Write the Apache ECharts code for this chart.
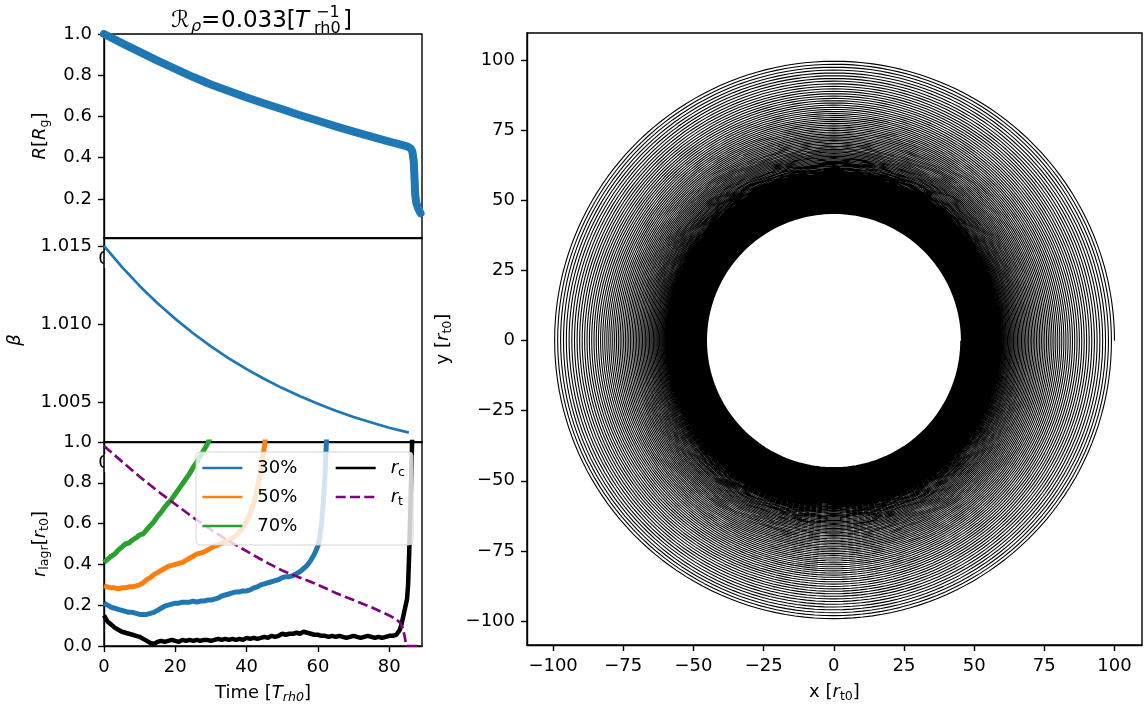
<!DOCTYPE html>
<html>
<head>
<meta charset="utf-8">
<script src="https://cdn.jsdelivr.net/npm/echarts@6/dist/echarts.min.js"></script>
<style>
  html, body { margin: 0; padding: 0; background: #fff; }
  #chart { width: 1144px; height: 711px; }
</style>
</head>
<body>
<div id="chart"></div>
<script>
// ---------- data ----------
// Galactocentric radius of the cluster, R [R_g], against time [T_rh0]
const timeR = [0, 5, 10, 15, 20, 25, 30, 35, 40, 45, 50, 55, 60, 65, 70, 75, 80, 83, 85, 86, 86.5, 86.9, 87.1, 87.3, 87.6, 88.2, 88.8];
const sizeR = [1.000, 0.956, 0.913, 0.871, 0.831, 0.791, 0.755, 0.723, 0.692, 0.663, 0.635, 0.606, 0.579, 0.552, 0.526, 0.502, 0.478, 0.464, 0.455, 0.445, 0.43, 0.38, 0.30, 0.22, 0.18, 0.15, 0.13];

// beta against time
const timeBeta = [0, 5, 10, 15, 20, 25, 30, 35, 40, 45, 50, 55, 60, 65, 70, 75, 80, 85, 85.5];
const beta = [1.01500, 1.01367, 1.01245, 1.01135, 1.01035, 1.00943, 1.00859, 1.00783, 1.00714, 1.00651, 1.00593, 1.00541, 1.00493, 1.00449, 1.00409, 1.00373, 1.00340, 1.00312, 1.00309];

// Lagrangian radii [r_t0] : [time, radius]
const lagr30 = [[0,0.21],[1,0.20],[2,0.19],[3,0.185],[4,0.18],[5,0.175],[6,0.17],[7,0.165],[8,0.165],[9,0.16],[10,0.155],[11,0.155],[12,0.155],[13,0.16],[14,0.165],[15,0.175],[16,0.185],[17,0.195],[18,0.20],[19,0.205],[20,0.21],[21,0.21],[22,0.215],[23,0.215],[24,0.215],[25,0.22],[26,0.215],[27,0.22],[28,0.22],[29,0.225],[30,0.225],[31,0.23],[32,0.235],[33,0.245],[34,0.25],[35,0.255],[36,0.26],[37,0.265],[38,0.265],[39,0.27],[40,0.27],[41,0.275],[42,0.285],[43,0.29],[44,0.30],[45,0.305],[46,0.31],[47,0.315],[48,0.32],[49,0.325],[50,0.335],[51,0.34],[52,0.34],[53,0.345],[54,0.355],[55,0.365],[56,0.38],[57,0.395],[58,0.42],[59,0.45],[60,0.49],[60.5,0.53],[61,0.60],[61.5,0.70],[62,0.84],[62.5,1.05]];
const lagr50 = [[0,0.295],[1,0.29],[2,0.285],[3,0.285],[4,0.28],[5,0.285],[6,0.285],[7,0.29],[8,0.29],[9,0.295],[10,0.30],[11,0.31],[12,0.325],[13,0.335],[14,0.35],[15,0.36],[16,0.37],[17,0.38],[18,0.39],[19,0.395],[20,0.40],[21,0.405],[22,0.41],[23,0.42],[24,0.43],[25,0.44],[26,0.45],[27,0.455],[28,0.46],[29,0.47],[30,0.48],[31,0.49],[32,0.495],[33,0.505],[34,0.51],[35,0.52],[36,0.53],[37,0.54],[38,0.56],[39,0.58],[40,0.61],[41,0.65],[42,0.70],[43,0.77],[44,0.86],[45,0.98],[45.5,1.05]];
const lagr70 = [[0,0.41],[1,0.425],[2,0.44],[3,0.45],[4,0.47],[5,0.485],[6,0.50],[7,0.505],[8,0.52],[9,0.53],[10,0.545],[11,0.55],[12,0.57],[13,0.59],[14,0.61],[15,0.635],[16,0.655],[17,0.68],[18,0.70],[19,0.72],[20,0.745],[21,0.77],[22,0.795],[23,0.82],[24,0.845],[25,0.875],[26,0.90],[27,0.93],[28,0.96],[29,0.99],[30,1.03]];
// core radius r_c and tidal radius r_t [r_t0]
const coreRadius = [[0,0.15],[1,0.12],[2,0.105],[3,0.09],[4,0.08],[5,0.07],[6,0.065],[7,0.06],[8,0.055],[9,0.05],[10,0.045],[11,0.035],[12,0.025],[13,0.015],[14,0.01],[15,0.02],[16,0.025],[17,0.02],[18,0.025],[19,0.03],[20,0.025],[21,0.02],[22,0.03],[23,0.025],[24,0.03],[25,0.025],[26,0.03],[27,0.025],[28,0.03],[29,0.03],[30,0.025],[31,0.03],[32,0.035],[33,0.03],[34,0.035],[35,0.03],[36,0.035],[37,0.03],[38,0.035],[39,0.03],[40,0.04],[41,0.035],[42,0.04],[43,0.035],[44,0.04],[45,0.045],[46,0.04],[47,0.05],[48,0.045],[49,0.05],[50,0.06],[51,0.055],[52,0.06],[53,0.06],[54,0.065],[55,0.06],[56,0.07],[57,0.065],[58,0.06],[59,0.055],[60,0.055],[61,0.05],[62,0.05],[63,0.045],[64,0.05],[65,0.045],[66,0.05],[67,0.045],[68,0.04],[69,0.045],[70,0.05],[71,0.045],[72,0.04],[73,0.045],[74,0.05],[75,0.045],[76,0.04],[77,0.045],[78,0.04],[79,0.045],[80,0.05],[81,0.05],[82,0.055],[83,0.08],[83.5,0.11],[84,0.15],[84.5,0.19],[85,0.23],[85.3,0.30],[85.6,0.45],[85.9,0.65],[86.2,0.85],[86.5,1.05]];
const tidalRadius = [[0,0.98],[5,0.905],[10,0.83],[15,0.76],[20,0.695],[25,0.63],[30,0.57],[35,0.515],[40,0.465],[45,0.415],[50,0.37],[55,0.335],[60,0.30],[65,0.26],[70,0.225],[75,0.19],[80,0.15],[82,0.13],[83,0.115],[83.8,0.09],[84.3,0.05],[84.7,0.01],[85,0.0],[89.2,0.0]];

// Orbit in the galactic plane: radius [r_t0] at each successive pass through the +x axis
const turnRadius = [100.00,98.91,97.85,96.81,95.79,94.79,93.81,92.85,91.91,90.99,90.09,89.21,88.34,87.49,86.66,85.84,85.03,84.25,83.47,82.71,81.97,81.23,80.52,79.81,79.11,78.43,77.76,77.10,76.45,75.82,75.19,74.57,73.96,73.37,72.78,72.20,71.63,71.07,70.52,69.98,69.44,68.92,68.40,67.89,67.39,66.89,66.40,65.92,65.45,64.98,64.52,64.06,63.61,63.17,62.74,62.31,61.88,61.46,61.05,60.64,60.24,59.84,59.45,59.07,58.69,58.31,57.94,57.57,57.21,56.85,56.50,56.15,55.80,55.46,55.13,54.79,54.47,54.14,53.82,53.50,53.19,52.88,52.58,52.27,51.98,51.68,51.39,51.10,50.81,50.53,50.25,49.98,49.70,49.43,49.16,48.90,48.64,48.38,48.12,47.87,47.62,47.37,47.13,46.88,46.64,46.40,46.17,45.94,45.70,45.48,45.25];

// tick positions
const timeTicks = [0, 20, 40, 60, 80];
const sizeTicks = [0.2, 0.4, 0.6, 0.8, 1.0];
const betaTicks = [1.005, 1.010, 1.015];
const lagrTicks = [0.0, 0.2, 0.4, 0.6, 0.8, 1.0];
const orbitTicks = [-100, -75, -50, -25, 0, 25, 50, 75, 100];

// ---------- helpers ----------
const FONT = 'DejaVu Sans';
const BLUE = '#1f77b4', ORANGE = '#ff7f0e', GREEN = '#2ca02c', PURPLE = '#800080';

const RICH = {
  n:  { fontFamily: FONT, fontSize: 18, color: '#000', lineHeight: 22 },
  i:  { fontFamily: FONT, fontSize: 18, color: '#000', lineHeight: 22, fontStyle: 'italic' },
  s:  { fontFamily: FONT, fontSize: 12.6, color: '#000', lineHeight: 8, verticalAlign: 'bottom' },
  si: { fontFamily: FONT, fontSize: 12.6, color: '#000', lineHeight: 8, verticalAlign: 'bottom', fontStyle: 'italic' }
};

const lineStyleAxis = { color: '#000', width: 1.4 };
const axisLine = { show: true, onZero: false, lineStyle: lineStyleAxis };
function labelStyle(values, fmt) {
  return { show: true, customValues: values, formatter: fmt, color: '#000',
           fontFamily: FONT, fontSize: 18, margin: 12 };
}
function tickStyle(values) {
  return { show: true, customValues: values, length: 6, inside: false, lineStyle: lineStyleAxis };
}
const nameStyle = { fontFamily: FONT, fontSize: 18, color: '#000', rich: RICH };

// orbit path, sampled along each revolution
const SAMPLES_PER_TURN = 180;
const orbit = [];
for (let n = 0; n < turnRadius.length - 1; n++) {
  const r0 = turnRadius[n], r1 = turnRadius[n + 1];
  for (let k = 0; k < SAMPLES_PER_TURN; k++) {
    const f = k / SAMPLES_PER_TURN;
    const a = 2 * Math.PI * f;
    const r = r0 + (r1 - r0) * f;
    orbit.push([r * Math.cos(a), r * Math.sin(a)]);
  }
}
orbit.push([turnRadius[turnRadius.length - 1], 0]);

const minusFmt = v => String(v).replace('-', '\u2212');

const grids = [
  { left: 104, top: 34,  width: 318, height: 204 },
  { left: 104, top: 238, width: 318, height: 204 },
  { left: 104, top: 442, width: 318, height: 204 },
  { left: 527, top: 33,  width: 615, height: 612 }
].map(g => Object.assign(g, { show: true, borderColor: '#000', borderWidth: 1.4,
                               containLabel: false, outerBoundsMode: 'none' }));

function hiddenTimeAxis(idx) {
  return { gridIndex: idx, type: 'value', min: 0, max: 89.2, axisLine,
           axisTick: { show: false }, axisLabel: { show: false }, splitLine: { show: false } };
}

function titleText(x, y, text, size, italic) {
  return { type: 'text', x, y, z: 5,
           style: { text, fontFamily: FONT, fontSize: size, fontStyle: italic ? 'italic' : 'normal',
                    fill: '#000', verticalAlign: 'middle' } };
}

const option = {
  animation: false,
  backgroundColor: '#fff',
  grid: grids,
  xAxis: [
    hiddenTimeAxis(0),
    hiddenTimeAxis(1),
    { gridIndex: 2, type: 'value', min: 0, max: 89.2, axisLine,
      axisTick: tickStyle(timeTicks),
      axisLabel: labelStyle(timeTicks, v => String(v)),
      splitLine: { show: false },
      name: '{n|Time [}{i|T}{si|rh0}{n|]}', nameLocation: 'middle', nameGap: 36,
      nameTextStyle: nameStyle },
    { gridIndex: 3, type: 'value', min: -109.3, max: 109.8, axisLine,
      axisTick: tickStyle(orbitTicks),
      axisLabel: labelStyle(orbitTicks, minusFmt),
      splitLine: { show: false },
      name: '{n|x [}{i|r}{s|t0}{n|]}', nameLocation: 'middle', nameGap: 36,
      nameTextStyle: nameStyle }
  ],
  yAxis: [
    { gridIndex: 0, type: 'value', min: 0.01, max: 1.0, axisLine,
      axisTick: tickStyle(sizeTicks),
      axisLabel: labelStyle(sizeTicks, v => v.toFixed(1)),
      splitLine: { show: false },
      name: '{i|R}{n|[}{i|R}{s|g}{n|]}', nameLocation: 'middle', nameGap: 53, nameRotate: 90,
      nameTextStyle: nameStyle },
    { gridIndex: 1, type: 'value', min: 1.00249, max: 1.01551, axisLine,
      axisTick: tickStyle(betaTicks),
      axisLabel: labelStyle(betaTicks, v => v.toFixed(3)),
      splitLine: { show: false },
      name: '{i|β}', nameLocation: 'middle', nameGap: 78, nameRotate: 90,
      nameTextStyle: nameStyle },
    { gridIndex: 2, type: 'value', min: 0, max: 1.0, axisLine,
      axisTick: tickStyle(lagrTicks),
      axisLabel: labelStyle(lagrTicks, v => v.toFixed(1)),
      splitLine: { show: false },
      name: '{i|r}{s|lagr}{n|[}{i|r}{s|t0}{n|]}', nameLocation: 'middle', nameGap: 53, nameRotate: 90,
      nameTextStyle: nameStyle },
    { gridIndex: 3, type: 'value', min: -108.6, max: 109.8, axisLine,
      axisTick: tickStyle(orbitTicks),
      axisLabel: labelStyle(orbitTicks, minusFmt),
      splitLine: { show: false },
      name: '{n|y [}{i|r}{s|t0}{n|]}', nameLocation: 'middle', nameGap: 71, nameRotate: 90,
      nameTextStyle: nameStyle }
  ],
  legend: {
    left: 196, top: 452, width: 210,
    orient: 'horizontal',
    padding: [5, 8, 8, 5],
    itemGap: 7, itemWidth: 40, itemHeight: 14,
    backgroundColor: 'rgba(255,255,255,0.8)',
    borderColor: 'rgba(204,204,204,0.8)', borderWidth: 1, borderRadius: 4,
    selectedMode: false,
    lineStyle: { width: 2.7 },
    itemStyle: { color: 'rgba(0,0,0,0)', borderWidth: 0, opacity: 0 },
    textStyle: { fontFamily: FONT, fontSize: 18, color: '#000', lineHeight: 20,
                 padding: [0, 0, 0, 10], rich: RICH },
    formatter: name => name === 'rc' ? '{i|r}{s|c}' : name === 'rt' ? '{i|r}{s|t}' : '{n|' + name + '}',
    data: [
      { name: '30%', textStyle: { width: 70 } }, 'rc',
      { name: '50%', textStyle: { width: 70 } }, 'rt',
      { name: '70%', textStyle: { width: 70 } }
    ]
  },
  graphic: [
    // title: R_rho = 0.033 [T_rh0^-1]
    titleText(171, 21, 'ℛ', 23, false),
    titleText(191, 27, 'ρ', 16, true),
    titleText(201, 21, '=', 23, false),
    titleText(221, 21, '0.033[', 23, false),
    titleText(295, 21, 'T', 23, true),
    titleText(316, 13, '\u22121', 16, false),
    titleText(314, 29, 'rh0', 16, false),
    titleText(343, 21, ']', 23, false),
    // x tick label "0" of the upper panels, half hidden under the panel below
    { type: 'text', x: 104, y: 259, z: 1, style: { text: '0', fontFamily: FONT, fontSize: 18, fill: '#000', align: 'center', verticalAlign: 'middle' } },
    { type: 'rect', z: 1, shape: { x: 104.8, y: 250, width: 8, height: 18 }, style: { fill: '#fff' } },
    { type: 'text', x: 104, y: 463, z: 1, style: { text: '0', fontFamily: FONT, fontSize: 18, fill: '#000', align: 'center', verticalAlign: 'middle' } },
    { type: 'rect', z: 1, shape: { x: 104.8, y: 454, width: 8, height: 18 }, style: { fill: '#fff' } }
  ],
  series: [
    { type: 'line', xAxisIndex: 0, yAxisIndex: 0, z: 3, symbol: 'none',
      data: timeR.map((t, i) => [t, sizeR[i]]),
      lineStyle: { color: BLUE, width: 8, cap: 'round', join: 'round' } },
    { type: 'line', xAxisIndex: 1, yAxisIndex: 1, z: 3, symbol: 'none',
      data: timeBeta.map((t, i) => [t, beta[i]]),
      lineStyle: { color: BLUE, width: 2.7 } },
    { name: '30%', type: 'line', xAxisIndex: 2, yAxisIndex: 2, z: 3, symbol: 'none', color: BLUE,
      data: lagr30, lineStyle: { color: BLUE, width: 5 } },
    { name: '50%', type: 'line', xAxisIndex: 2, yAxisIndex: 2, z: 3, symbol: 'none', color: ORANGE,
      data: lagr50, lineStyle: { color: ORANGE, width: 5 } },
    { name: '70%', type: 'line', xAxisIndex: 2, yAxisIndex: 2, z: 3, symbol: 'none', color: GREEN,
      data: lagr70, lineStyle: { color: GREEN, width: 5 } },
    { name: 'rc', type: 'line', xAxisIndex: 2, yAxisIndex: 2, z: 3, symbol: 'none', color: '#000',
      data: coreRadius, lineStyle: { color: '#000', width: 4.5 } },
    { name: 'rt', type: 'line', xAxisIndex: 2, yAxisIndex: 2, z: 3, symbol: 'none', color: PURPLE,
      data: tidalRadius, lineStyle: { color: PURPLE, width: 2.7, type: [10, 4.3] } },
    { type: 'line', xAxisIndex: 3, yAxisIndex: 3, z: 3, symbol: 'none', sampling: null,
      progressive: 0, data: orbit,
      lineStyle: { color: '#000', width: 1.1 } }
  ]
};

const chart = echarts.init(document.getElementById('chart'), null, { renderer: 'canvas' });
chart.setOption(option);
</script>
</body>
</html>
